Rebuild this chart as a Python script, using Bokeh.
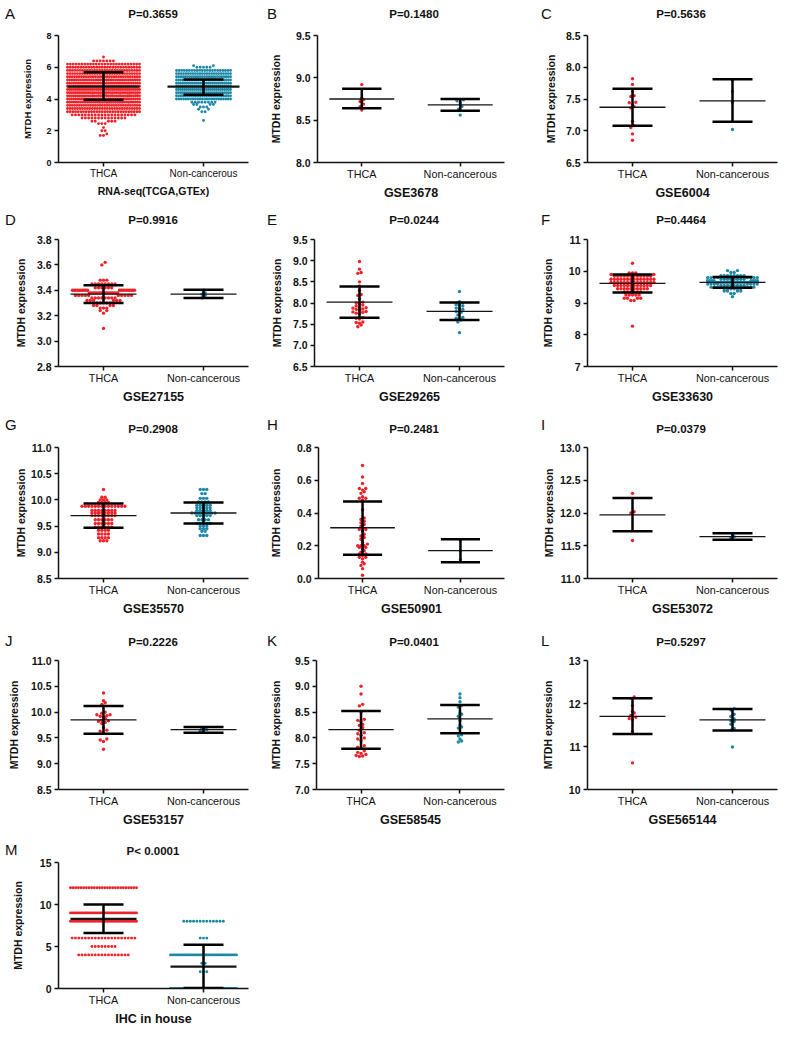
import html as htmlmod
import numpy as np
from bokeh.plotting import figure
from bokeh.models import Range1d, FixedTicker, Div
from bokeh.layouts import column, row
from bokeh.embed import file_html
from bokeh.resources import INLINE

# ---------------- data ----------------
groups = ["THCA", "Non-cancerous"]
letters = ["A", "B", "C", "D", "E", "F", "G", "H", "I", "J", "K", "L", "M"]
p_texts = ["P=0.3659", "P=0.1480", "P=0.5636", "P=0.9916", "P=0.0244", "P=0.4464",
           "P=0.2908", "P=0.2481", "P=0.0379", "P=0.2226", "P=0.0401", "P=0.5297", "P< 0.0001"]
datasets = ["RNA-seq(TCGA,GTEx)", "GSE3678", "GSE6004", "GSE27155", "GSE29265", "GSE33630",
            "GSE35570", "GSE50901", "GSE53072", "GSE53157", "GSE58545", "GSE565144", "IHC in house"]
y_tick_labels = [
    ["0", "2", "4", "6", "8"],
    ["8.0", "8.5", "9.0", "9.5"],
    ["6.5", "7.0", "7.5", "8.0", "8.5"],
    ["2.8", "3.0", "3.2", "3.4", "3.6", "3.8"],
    ["6.5", "7.0", "7.5", "8.0", "8.5", "9.0", "9.5"],
    ["7", "8", "9", "10", "11"],
    ["8.5", "9.0", "9.5", "10.0", "10.5", "11.0"],
    ["0.0", "0.2", "0.4", "0.6", "0.8"],
    ["11.0", "11.5", "12.0", "12.5", "13.0"],
    ["8.5", "9.0", "9.5", "10.0", "10.5", "11.0"],
    ["7.0", "7.5", "8.0", "8.5", "9.0", "9.5"],
    ["10", "11", "12", "13"],
    ["0", "5", "10", "15"],
]

# mean and mean +/- SD
mean_thca = [4.78, 8.75, 7.37, 3.37, 8.02, 9.62, 9.70, 0.31, 11.97, 9.85, 8.16, 11.70, 8.30]
sd_hi_thca = [5.68, 8.87, 7.66, 3.44, 8.39, 9.90, 9.93, 0.47, 12.23, 10.12, 8.52, 12.12, 10.0]
sd_lo_thca = [3.95, 8.64, 7.08, 3.30, 7.65, 9.33, 9.47, 0.145, 11.72, 9.58, 7.79, 11.29, 6.6]
mean_nc = [4.78, 8.68, 7.47, 3.37, 7.80, 9.65, 9.75, 0.17, 11.64, 9.66, 8.37, 11.62, 2.6]
sd_hi_nc = [5.23, 8.75, 7.81, 3.405, 8.01, 9.82, 9.95, 0.24, 11.69, 9.71, 8.64, 11.87, 5.2]
sd_lo_nc = [4.26, 8.61, 7.14, 3.34, 7.60, 9.48, 9.55, 0.10, 11.59, 9.60, 8.09, 11.37, 0.05]

# A: RNA-seq (dense, read as rows: level -> number of samples)
a_thca_levels = [1.7, 1.8, 2.0, 2.2, 2.45, 2.6, 2.8, 3.0, 3.2, 3.4, 3.6, 3.8, 4.0, 4.2, 4.4,
                 4.6, 4.8, 5.0, 5.2, 5.4, 5.6, 5.8, 6.0, 6.2, 6.4, 6.65]
a_thca_counts = [2, 1, 2, 1, 3, 5, 14, 20, 28, 30, 32, 34, 36, 38, 38, 38, 36, 36, 34, 32,
                 30, 30, 28, 26, 7, 1]
a_nc_levels = [2.65, 3.2, 3.35, 3.5, 3.65, 3.8, 4.0, 4.2, 4.4, 4.6, 4.8, 5.0, 5.2, 5.4,
               5.6, 5.8, 6.0, 6.1]
a_nc_counts = [1, 2, 2, 3, 4, 8, 24, 26, 28, 28, 28, 28, 26, 26, 24, 22, 5, 2]

b_thca = [8.92, 8.76, 8.74, 8.72, 8.69, 8.66, 8.62]
b_nc = [8.74, 8.73, 8.71, 8.66, 8.63, 8.56]

c_thca = [7.82, 7.73, 7.62, 7.55, 7.54, 7.45, 7.44, 7.41, 7.38, 7.36, 7.15, 7.08, 7.05, 6.95, 6.85]
c_nc = [7.80, 7.62, 7.45, 7.02]

d_thca_levels = [3.62, 3.60, 3.48, 3.45, 3.42, 3.40, 3.38, 3.36, 3.34, 3.32, 3.30, 3.28,
                 3.26, 3.24, 3.22, 3.10]
d_thca_counts = [1, 1, 3, 8, 6, 20, 18, 10, 8, 6, 5, 4, 3, 2, 1, 1]
d_nc = [3.40, 3.38, 3.37, 3.36, 3.34]

e_thca = [8.98, 8.80, 8.72, 8.70, 8.50, 8.40, 8.30, 8.20, 8.18, 8.10, 8.02, 8.00, 7.98, 7.95,
          7.93, 7.90, 7.89, 7.88, 7.86, 7.85, 7.83, 7.80, 7.79, 7.78, 7.76, 7.75, 7.65, 7.64,
          7.62, 7.55, 7.54, 7.52, 7.48, 7.44]
e_nc = [8.27, 8.03, 8.00, 7.96, 7.95, 7.93, 7.88, 7.87, 7.85, 7.80, 7.79, 7.78, 7.72, 7.66,
        7.64, 7.62, 7.60, 7.55, 7.30]

f_thca_levels = [10.25, 9.95, 9.90, 9.85, 9.75, 9.65, 9.55, 9.45, 9.35, 9.25, 9.15, 9.08, 8.27]
f_thca_counts = [1, 3, 2, 12, 14, 14, 12, 10, 6, 5, 4, 2, 1]
f_nc_levels = [10.02, 9.96, 9.86, 9.80, 9.75, 9.70, 9.65, 9.60, 9.55, 9.50, 9.45, 9.38, 9.30, 9.20]
f_nc_counts = [2, 2, 8, 8, 8, 8, 16, 8, 8, 8, 6, 4, 2, 1]

g_thca_levels = [10.20, 10.05, 10.00, 9.95, 9.88, 9.80, 9.75, 9.70, 9.62, 9.55, 9.48, 9.42,
                 9.35, 9.28, 9.22]
g_thca_counts = [1, 2, 3, 4, 14, 8, 8, 8, 6, 6, 6, 4, 4, 4, 3]
g_nc_levels = [10.20, 10.12, 10.03, 9.96, 9.90, 9.85, 9.80, 9.75, 9.70, 9.62, 9.55, 9.50,
               9.45, 9.40, 9.32]
g_nc_counts = [3, 2, 3, 4, 5, 5, 5, 8, 5, 4, 5, 3, 3, 2, 3]

h_thca = [0.69, 0.62, 0.58, 0.55, 0.55, 0.54, 0.53, 0.52, 0.50, 0.49, 0.49, 0.48, 0.42, 0.37,
          0.36, 0.35, 0.34, 0.33, 0.32, 0.30, 0.30, 0.29, 0.27, 0.26, 0.25, 0.24, 0.22, 0.21,
          0.20, 0.20, 0.20, 0.19, 0.19, 0.18, 0.17, 0.16, 0.15, 0.15, 0.14, 0.13, 0.13, 0.12,
          0.10, 0.09, 0.08, 0.06, 0.02]
h_nc = [0.235, 0.17, 0.115]

i_thca = [12.30, 12.02, 12.00, 11.58]
i_nc = [11.67, 11.64, 11.62]

j_thca = [10.37, 10.22, 10.18, 10.15, 10.00, 9.98, 9.95, 9.95, 9.93, 9.92, 9.90, 9.88, 9.84,
          9.83, 9.82, 9.80, 9.78, 9.70, 9.65, 9.63, 9.60, 9.48, 9.46, 9.43, 9.28]
j_nc = [9.70, 9.68, 9.66, 9.63, 9.61]

k_thca = [9.00, 8.85, 8.65, 8.62, 8.50, 8.36, 8.34, 8.32, 8.26, 8.24, 8.20, 8.15, 8.10, 8.08,
          8.05, 8.00, 7.98, 7.95, 7.85, 7.82, 7.80, 7.75, 7.72, 7.70, 7.68, 7.66, 7.65, 7.64]
k_nc = [8.85, 8.78, 8.70, 8.63, 8.60, 8.48, 8.46, 8.42, 8.33, 8.25, 8.21, 8.19, 8.06, 8.04,
        7.98, 7.94, 7.92]

l_thca = [12.15, 12.12, 11.95, 11.82, 11.78, 11.72, 11.68, 11.65, 11.62, 11.35, 10.62]
l_nc = [11.88, 11.85, 11.75, 11.70, 11.64, 11.60, 11.58, 11.52, 11.42, 11.38, 10.99]

m_thca_levels = [12, 9, 8, 6, 5, 4]
m_thca_counts = [26, 40, 40, 20, 8, 16]
m_nc_levels = [8, 6, 4, 3, 2, 0]
m_nc_counts = [13, 3, 40, 2, 3, 40]

thca_values = [np.repeat(a_thca_levels, a_thca_counts), b_thca, c_thca,
               np.repeat(d_thca_levels, d_thca_counts), e_thca,
               np.repeat(f_thca_levels, f_thca_counts), np.repeat(g_thca_levels, g_thca_counts),
               h_thca, i_thca, j_thca, k_thca, l_thca, np.repeat(m_thca_levels, m_thca_counts)]
nc_values = [np.repeat(a_nc_levels, a_nc_counts), b_nc, c_nc, d_nc, e_nc,
             np.repeat(f_nc_levels, f_nc_counts), np.repeat(g_nc_levels, g_nc_counts),
             h_nc, i_nc, j_nc, k_nc, l_nc, np.repeat(m_nc_levels, m_nc_counts)]

# ---------------- style / layout ----------------
FONT = "Liberation Sans"
RED = "#ee2229"
TEAL = "#1c88a6"
FRAME_W = 190
TOTAL_W = 782
col_left = [58, 48, 61]
col_width = [266, 260, 256]
TOP_PAD = 7
row_frame = [127, 127, 131, 129, 128]
row_bottom = [40, 40, 40, 40, 38]
header_h = [28, 30, 34, 35, 26]
letter_top = [6, 10, 11, 15, 13]
title_top = [9, 13, 18, 19, 17]
letter_x = [5, 267, 541]
title_x = [153, 414, 681]
ylabel_standoff = [10, 11, 6, 7, 7, 12, 1, 12, 2, 8, 10, 12, 13]
half_thca = [0.36, 0.3, 0.3, 0.31, 0.3, 0.29, 0.28, 0.3, 0.3, 0.3, 0.3, 0.3, 0.33]
half_nc = [0.27, 0.3, 0.3, 0.3, 0.3, 0.25, 0.2, 0.3, 0.3, 0.3, 0.3, 0.3, 0.33]


def swarm(vals, center, ymin, ymax, frame_h, half_cap, d=0.033, row_px=2.6):
    vals = sorted(float(v) for v in vals)
    tol = row_px * (ymax - ymin) / frame_h
    rows = []
    for v in vals:
        if rows and v - rows[-1][0] < tol:
            rows[-1].append(v)
        else:
            rows.append([v])
    xs, ys = [], []
    for r_ in rows:
        n = len(r_)
        step = d if n < 2 or (n - 1) * d <= 2 * half_cap else 2 * half_cap / (n - 1)
        slots = [(k - (n - 1) / 2) * step for k in range(n)]
        order = sorted(range(n), key=lambda k: (abs(k - (n - 1) / 2), k))
        for v, k in zip(r_, order):
            xs.append(center + slots[k])
            ys.append(v)
    return xs, ys


def make_panel(i):
    r, c = divmod(i, 3)
    labels = y_tick_labels[i]
    ticks = [float(t) for t in labels]
    ymin, ymax = ticks[0], ticks[-1]
    fh = row_frame[r]
    W = col_width[c]
    H = TOP_PAD + fh + row_bottom[r]
    p = figure(width=W, height=H, x_range=Range1d(0.55, 2.45), y_range=Range1d(ymin, ymax),
               output_backend="svg", toolbar_location=None, title=None,
               min_border_left=col_left[c], min_border_right=W - col_left[c] - FRAME_W,
               min_border_top=TOP_PAD, min_border_bottom=row_bottom[r])
    p.xgrid.visible = False
    p.ygrid.visible = False
    p.outline_line_color = None
    p.background_fill_color = "white"
    p.border_fill_color = "white"

    small = (i == 0)
    dot = 2.9 if i in (0, 12) else 3.4
    groups_data = [
        (1, thca_values[i], mean_thca[i], sd_hi_thca[i], sd_lo_thca[i], RED, half_thca[i]),
        (2, nc_values[i], mean_nc[i], sd_hi_nc[i], sd_lo_nc[i], TEAL, half_nc[i]),
    ]
    for cx, vals, mu, hi, lo, col, hc in groups_data:
        xs, ys = swarm(vals, cx, ymin, ymax, fh, hc)
        p.scatter(xs, ys, size=dot, fill_color=col, line_color=None)
    for cx, vals, mu, hi, lo, col, hc in groups_data:
        mw = 0.36 if small else 0.33
        mlw = 2.2 if i in (0, 12) else 1.3
        p.segment(x0=[cx - mw], x1=[cx + mw], y0=[mu], y1=[mu], line_width=mlw, line_color="#151515")
        p.segment(x0=[cx - 0.2, cx - 0.2, cx], x1=[cx + 0.2, cx + 0.2, cx],
                  y0=[hi, lo, lo], y1=[hi, lo, hi], line_width=2.5, line_color="black")

    # axes
    xa = p.xaxis[0]
    ya = p.yaxis[0]
    xa.ticker = FixedTicker(ticks=[1, 2])
    xa.major_label_overrides = {1: groups[0], 2: groups[1]}
    ya.ticker = FixedTicker(ticks=ticks)
    ya.major_label_overrides = {t: s for t, s in zip(ticks, labels)}
    for ax in (xa, ya):
        ax.axis_line_width = 1.5
        ax.axis_line_color = "#111111"
        ax.major_tick_line_width = 1.5
        ax.major_tick_line_color = "#111111"
        ax.major_tick_out = 4
        ax.major_tick_in = 0
        ax.minor_tick_out = 0
        ax.minor_tick_in = 0
        ax.major_label_text_font = FONT
        ax.axis_label_text_font = FONT
        ax.major_label_text_color = "#111111"
        ax.axis_label_text_color = "#111111"
    xa.major_label_standoff = 1
    xa.major_label_text_font_size = "10px" if small else "10.8px"
    xa.axis_label = datasets[i]
    xa.axis_label_text_font_style = "bold"
    xa.axis_label_text_font_size = "10.5px" if small else "12.5px"
    xa.axis_label_standoff = 3
    ya.major_label_standoff = 3
    ya.major_label_text_font_style = "bold"
    ya.major_label_text_font_size = "9px" if small else "10.5px"
    ya.axis_label = "MTDH expression"
    ya.axis_label_text_font_style = "bold"
    ya.axis_label_text_font_size = "9.5px" if small else "10.5px"
    ya.axis_label_standoff = ylabel_standoff[i]
    return p


def header(r, idxs):
    hh = header_h[r]
    spans = []
    for i in idxs:
        c = i % 3
        spans.append(
            f'<span style="position:absolute;left:{letter_x[c]}px;top:{letter_top[r]}px;'
            f'font-size:15px;line-height:1;white-space:nowrap;">{htmlmod.escape(letters[i])}</span>')
        spans.append(
            f'<span style="position:absolute;left:{title_x[c]}px;top:{title_top[r]}px;'
            f'transform:translateX(-50%);font-size:11.5px;font-weight:bold;line-height:1;'
            f'white-space:nowrap;">{htmlmod.escape(p_texts[i])}</span>')
    content = (f'<div style="position:relative;width:{TOTAL_W}px;height:{hh}px;'
               f"font-family:'Liberation Sans',Arial,sans-serif;color:#111111;\">"
               + "".join(spans) + "</div>")
    return Div(text=content, width=TOTAL_W, height=hh, margin=0)


figs = [make_panel(i) for i in range(13)]
row_groups = [[0, 1, 2], [3, 4, 5], [6, 7, 8], [9, 10, 11], [12]]
children = []
for r, idxs in enumerate(row_groups):
    children.append(header(r, idxs))
    children.append(row([figs[i] for i in idxs], spacing=0))
layout = column(children, spacing=0)
open("out.html", "w").write(file_html(layout, INLINE, title="MTDH expression"))
